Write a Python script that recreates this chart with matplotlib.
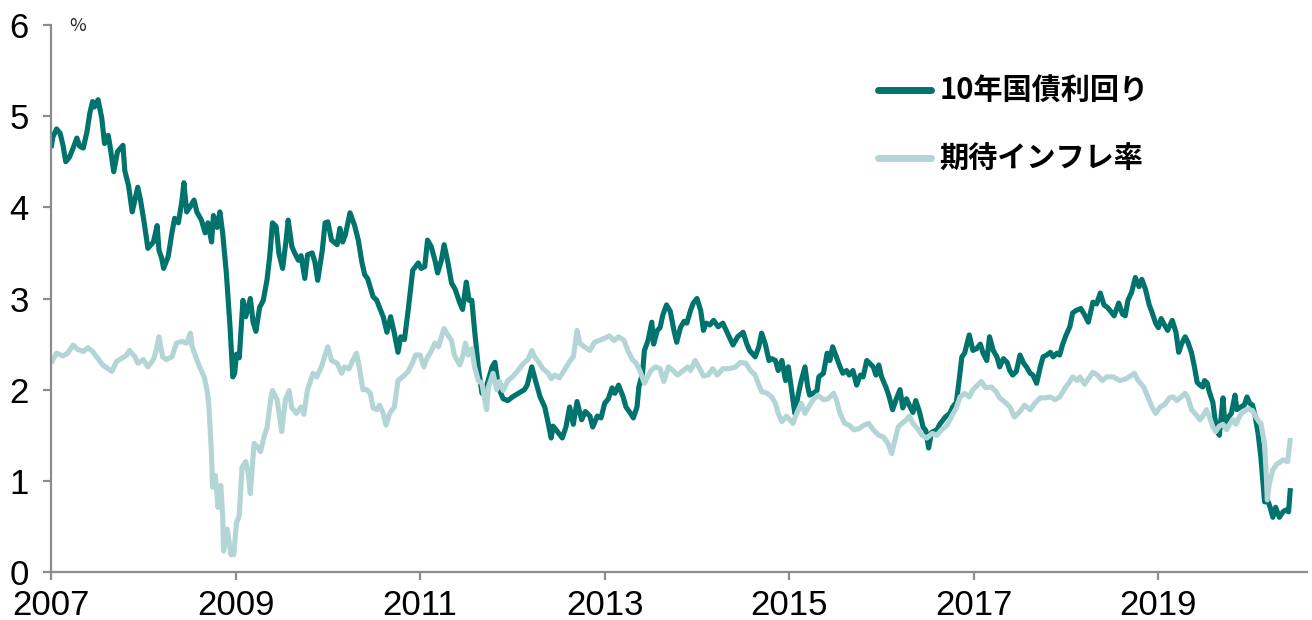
import matplotlib
matplotlib.use("Agg")
import matplotlib.pyplot as plt

# 10年国債利回り (週次の目視読み取り, 年の小数表記)
t_yield = [
    2007.00, 2007.02, 2007.06, 2007.10, 2007.13, 2007.16, 2007.20, 2007.24, 2007.28, 2007.31,
    2007.35, 2007.39, 2007.42, 2007.45, 2007.47, 2007.51, 2007.55, 2007.58, 2007.62, 2007.64,
    2007.68, 2007.72, 2007.78, 2007.80, 2007.84, 2007.88, 2007.94, 2007.97, 2008.01, 2008.05,
    2008.11, 2008.15, 2008.17, 2008.20, 2008.22, 2008.27, 2008.31, 2008.34, 2008.38, 2008.42,
    2008.44, 2008.47, 2008.51, 2008.55, 2008.58, 2008.63, 2008.67, 2008.70, 2008.74, 2008.76,
    2008.80, 2008.83, 2008.86, 2008.90, 2008.94, 2008.97, 2008.99, 2009.01, 2009.04, 2009.08,
    2009.11, 2009.16, 2009.19, 2009.22, 2009.26, 2009.30, 2009.34, 2009.37, 2009.40, 2009.44,
    2009.47, 2009.51, 2009.55, 2009.57, 2009.61, 2009.64, 2009.68, 2009.71, 2009.75, 2009.78,
    2009.83, 2009.86, 2009.89, 2009.94, 2009.97, 2010.00, 2010.04, 2010.10, 2010.13, 2010.16,
    2010.19, 2010.24, 2010.29, 2010.33, 2010.37, 2010.40, 2010.43, 2010.49, 2010.53, 2010.56,
    2010.60, 2010.64, 2010.68, 2010.72, 2010.76, 2010.79, 2010.83, 2010.87, 2010.92, 2010.98,
    2011.01, 2011.05, 2011.08, 2011.12, 2011.16, 2011.19, 2011.23, 2011.26, 2011.30, 2011.34,
    2011.38, 2011.43, 2011.46, 2011.50, 2011.53, 2011.56, 2011.59, 2011.63, 2011.67, 2011.72,
    2011.78, 2011.81, 2011.85, 2011.90, 2011.95, 2012.00, 2012.08, 2012.13, 2012.16, 2012.21,
    2012.25, 2012.30, 2012.35, 2012.38, 2012.42, 2012.44, 2012.48, 2012.54, 2012.58, 2012.62,
    2012.66, 2012.70, 2012.75, 2012.79, 2012.84, 2012.87, 2012.92, 2012.96, 2013.00, 2013.04,
    2013.08, 2013.11, 2013.15, 2013.20, 2013.23, 2013.28, 2013.31, 2013.35, 2013.37, 2013.41,
    2013.43, 2013.47, 2013.51, 2013.53, 2013.57, 2013.60, 2013.63, 2013.67, 2013.71, 2013.75,
    2013.78, 2013.82, 2013.86, 2013.89, 2013.93, 2013.96, 2014.00, 2014.04, 2014.07, 2014.10,
    2014.14, 2014.18, 2014.23, 2014.28, 2014.33, 2014.39, 2014.44, 2014.50, 2014.54, 2014.57,
    2014.63, 2014.67, 2014.70, 2014.74, 2014.78, 2014.81, 2014.85, 2014.88, 2014.92, 2014.96,
    2014.99, 2015.03, 2015.06, 2015.10, 2015.13, 2015.17, 2015.20, 2015.22, 2015.26, 2015.30,
    2015.32, 2015.37, 2015.41, 2015.44, 2015.47, 2015.51, 2015.55, 2015.58, 2015.62, 2015.65,
    2015.69, 2015.73, 2015.77, 2015.80, 2015.84, 2015.87, 2015.91, 2015.94, 2015.97, 2016.00,
    2016.05, 2016.08, 2016.12, 2016.16, 2016.20, 2016.23, 2016.27, 2016.30, 2016.34, 2016.37,
    2016.41, 2016.45, 2016.48, 2016.51, 2016.54, 2016.60, 2016.63, 2016.69, 2016.74, 2016.77,
    2016.81, 2016.84, 2016.87, 2016.90, 2016.95, 2016.99, 2017.03, 2017.07, 2017.10, 2017.14,
    2017.17, 2017.21, 2017.25, 2017.28, 2017.32, 2017.36, 2017.39, 2017.42, 2017.46, 2017.50,
    2017.54, 2017.57, 2017.61, 2017.64, 2017.68, 2017.72, 2017.75, 2017.79, 2017.83, 2017.86,
    2017.90, 2017.93, 2017.96, 2018.00, 2018.04, 2018.07, 2018.11, 2018.16, 2018.20, 2018.24,
    2018.29, 2018.33, 2018.37, 2018.41, 2018.45, 2018.49, 2018.52, 2018.57, 2018.61, 2018.64,
    2018.67, 2018.71, 2018.75, 2018.79, 2018.82, 2018.86, 2018.90, 2018.93, 2018.97, 2019.00,
    2019.03, 2019.06, 2019.10, 2019.15, 2019.19, 2019.22, 2019.25, 2019.29, 2019.32, 2019.36,
    2019.39, 2019.42, 2019.45, 2019.48, 2019.50, 2019.53, 2019.55, 2019.59, 2019.61, 2019.64,
    2019.66, 2019.70, 2019.72, 2019.75, 2019.79, 2019.83, 2019.85, 2019.89, 2019.93, 2019.96,
    2019.99, 2020.02, 2020.05, 2020.08, 2020.11, 2020.13, 2020.15, 2020.19, 2020.21, 2020.24,
    2020.27, 2020.31, 2020.35, 2020.38, 2020.41, 2020.43,
]
yield_10y = [
    4.65, 4.77, 4.86, 4.81, 4.68, 4.50, 4.55, 4.65, 4.76, 4.67,
    4.65, 4.83, 5.03, 5.16, 5.10, 5.18, 4.98, 4.70, 4.79, 4.67,
    4.39, 4.61, 4.68, 4.40, 4.24, 3.95, 4.22, 4.08, 3.83, 3.55,
    3.62, 3.80, 3.53, 3.44, 3.33, 3.46, 3.72, 3.88, 3.83, 4.08,
    4.27, 3.95, 4.01, 4.08, 3.95, 3.86, 3.72, 3.83, 3.62, 3.91,
    3.78, 3.95, 3.72, 3.28, 2.69, 2.14, 2.18, 2.39, 2.35, 2.98,
    2.80, 3.00, 2.74, 2.64, 2.90, 2.98, 3.20, 3.46, 3.83, 3.79,
    3.49, 3.33, 3.66, 3.86, 3.57, 3.50, 3.42, 3.47, 3.22, 3.48,
    3.50, 3.40, 3.20, 3.53, 3.83, 3.84, 3.64, 3.59, 3.77, 3.62,
    3.70, 3.94, 3.80, 3.64, 3.39, 3.26, 3.22, 3.02, 2.98, 2.90,
    2.80, 2.63, 2.80, 2.62, 2.41, 2.58, 2.55, 2.87, 3.31, 3.39,
    3.33, 3.35, 3.64, 3.57, 3.42, 3.28, 3.42, 3.59, 3.40, 3.17,
    3.10, 2.95, 2.88, 3.18, 2.98, 2.98, 2.65, 2.25, 1.96, 2.04,
    2.25, 2.30, 2.02, 1.90, 1.88, 1.92, 1.97, 2.00, 2.05, 2.25,
    2.10, 1.92, 1.81, 1.67, 1.47, 1.60, 1.55, 1.47, 1.59, 1.81,
    1.62, 1.87, 1.67, 1.76, 1.71, 1.59, 1.71, 1.69, 1.85, 1.90,
    2.02, 1.96, 2.05, 1.92, 1.81, 1.74, 1.69, 1.81, 2.03, 2.18,
    2.43, 2.54, 2.74, 2.50, 2.65, 2.68, 2.82, 2.93, 2.86, 2.65,
    2.52, 2.68, 2.75, 2.73, 2.87, 2.95, 3.00, 2.87, 2.65, 2.73,
    2.71, 2.76, 2.69, 2.73, 2.62, 2.49, 2.58, 2.63, 2.50, 2.43,
    2.36, 2.47, 2.62, 2.50, 2.32, 2.34, 2.32, 2.21, 2.32, 2.10,
    2.25, 1.96, 1.74, 1.96, 2.10, 2.25, 2.03, 1.94, 1.96, 1.99,
    2.14, 2.18, 2.40, 2.32, 2.47, 2.36, 2.25, 2.18, 2.21, 2.16,
    2.21, 2.05, 2.16, 2.14, 2.32, 2.29, 2.25, 2.16, 2.27, 2.14,
    2.02, 1.93, 1.78, 1.90, 2.00, 1.80, 1.90, 1.83, 1.75, 1.88,
    1.76, 1.59, 1.55, 1.36, 1.53, 1.56, 1.62, 1.70, 1.74, 1.81,
    1.86, 2.10, 2.36, 2.40, 2.60, 2.43, 2.45, 2.50, 2.40, 2.32,
    2.58, 2.43, 2.36, 2.25, 2.34, 2.30, 2.21, 2.16, 2.20, 2.38,
    2.29, 2.25, 2.18, 2.16, 2.07, 2.25, 2.36, 2.38, 2.41, 2.36,
    2.40, 2.38, 2.49, 2.60, 2.69, 2.84, 2.87, 2.89, 2.82, 2.74,
    2.96, 2.94, 3.06, 2.93, 2.90, 2.85, 2.81, 2.95, 2.83, 2.81,
    2.98, 3.07, 3.23, 3.13, 3.21, 3.10, 2.93, 2.85, 2.73, 2.68,
    2.78, 2.72, 2.65, 2.76, 2.63, 2.41, 2.50, 2.58, 2.52, 2.40,
    2.25, 2.08, 2.05, 2.03, 2.10, 2.07, 1.98, 1.86, 1.70, 1.54,
    1.50, 1.91, 1.60, 1.69, 1.74, 1.94, 1.78, 1.81, 1.83, 1.92,
    1.85, 1.83, 1.70, 1.52, 1.26, 1.01, 0.77, 0.77, 0.71, 0.60,
    0.71, 0.60, 0.66, 0.68, 0.66, 0.92,
]

# 期待インフレ率
t_bei = [
    2007.00, 2007.06, 2007.13, 2007.18, 2007.24, 2007.29, 2007.35, 2007.40, 2007.45, 2007.51,
    2007.56, 2007.62, 2007.66, 2007.71, 2007.76, 2007.82, 2007.85, 2007.91, 2007.94, 2008.00,
    2008.05, 2008.11, 2008.14, 2008.17, 2008.21, 2008.25, 2008.31, 2008.36, 2008.42, 2008.47,
    2008.51, 2008.53, 2008.58, 2008.61, 2008.66, 2008.69, 2008.71, 2008.74, 2008.75, 2008.78,
    2008.81, 2008.84, 2008.86, 2008.87, 2008.91, 2008.95, 2008.98, 2009.01, 2009.04, 2009.07,
    2009.11, 2009.14, 2009.16, 2009.20, 2009.25, 2009.27, 2009.31, 2009.34, 2009.38, 2009.40,
    2009.45, 2009.50, 2009.54, 2009.58, 2009.61, 2009.66, 2009.71, 2009.74, 2009.78, 2009.84,
    2009.88, 2009.93, 2009.97, 2010.00, 2010.04, 2010.10, 2010.15, 2010.18, 2010.23, 2010.27,
    2010.31, 2010.34, 2010.38, 2010.42, 2010.46, 2010.49, 2010.53, 2010.56, 2010.60, 2010.63,
    2010.67, 2010.72, 2010.76, 2010.81, 2010.87, 2010.92, 2010.95, 2011.00, 2011.04, 2011.08,
    2011.11, 2011.16, 2011.20, 2011.23, 2011.26, 2011.30, 2011.34, 2011.37, 2011.43, 2011.46,
    2011.49, 2011.52, 2011.56, 2011.59, 2011.63, 2011.67, 2011.70, 2011.72, 2011.74, 2011.79,
    2011.83, 2011.86, 2011.90, 2011.95, 2012.00, 2012.06, 2012.12, 2012.17, 2012.21, 2012.24,
    2012.28, 2012.33, 2012.39, 2012.42, 2012.46, 2012.51, 2012.56, 2012.62, 2012.66, 2012.70,
    2012.73, 2012.78, 2012.84, 2012.89, 2012.94, 2012.99, 2013.05, 2013.10, 2013.15, 2013.21,
    2013.25, 2013.30, 2013.34, 2013.38, 2013.43, 2013.46, 2013.50, 2013.55, 2013.60, 2013.64,
    2013.69, 2013.74, 2013.79, 2013.85, 2013.90, 2013.93, 2013.98, 2014.03, 2014.07, 2014.12,
    2014.17, 2014.22, 2014.28, 2014.35, 2014.42, 2014.47, 2014.53, 2014.58, 2014.63, 2014.67,
    2014.70, 2014.76, 2014.81, 2014.85, 2014.88, 2014.92, 2014.97, 2015.04, 2015.06, 2015.10,
    2015.13, 2015.17, 2015.21, 2015.26, 2015.31, 2015.37, 2015.42, 2015.48, 2015.51, 2015.55,
    2015.60, 2015.65, 2015.70, 2015.75, 2015.81, 2015.86, 2015.91, 2015.97, 2016.02, 2016.07,
    2016.11, 2016.14, 2016.18, 2016.22, 2016.27, 2016.30, 2016.34, 2016.39, 2016.44, 2016.49,
    2016.55, 2016.60, 2016.65, 2016.71, 2016.76, 2016.81, 2016.85, 2016.90, 2016.95, 2016.99,
    2017.04, 2017.08, 2017.13, 2017.19, 2017.24, 2017.28, 2017.33, 2017.39, 2017.44, 2017.50,
    2017.55, 2017.61, 2017.66, 2017.72, 2017.77, 2017.83, 2017.88, 2017.93, 2017.99, 2018.04,
    2018.07, 2018.12, 2018.15, 2018.20, 2018.29, 2018.34, 2018.39, 2018.44, 2018.51, 2018.58,
    2018.65, 2018.74, 2018.78, 2018.84, 2018.89, 2018.93, 2018.97, 2019.02, 2019.07, 2019.12,
    2019.16, 2019.20, 2019.29, 2019.32, 2019.36, 2019.42, 2019.45, 2019.48, 2019.52, 2019.55,
    2019.59, 2019.62, 2019.66, 2019.70, 2019.74, 2019.77, 2019.81, 2019.84, 2019.88, 2019.91,
    2019.97, 2020.02, 2020.05, 2020.09, 2020.11, 2020.15, 2020.17, 2020.18, 2020.20, 2020.24,
    2020.28, 2020.31, 2020.35, 2020.40, 2020.43,
]
bei = [
    2.29, 2.40, 2.37, 2.40, 2.49, 2.44, 2.42, 2.46, 2.42, 2.34,
    2.27, 2.23, 2.20, 2.31, 2.34, 2.38, 2.43, 2.36, 2.29, 2.33,
    2.25, 2.33, 2.43, 2.58, 2.36, 2.33, 2.36, 2.51, 2.53, 2.51,
    2.62, 2.47, 2.33, 2.25, 2.14, 2.00, 1.84, 1.28, 0.93, 1.06,
    0.71, 0.95, 0.62, 0.23, 0.47, 0.19, 0.19, 0.54, 0.62, 1.15,
    1.21, 1.06, 0.86, 1.41, 1.36, 1.32, 1.49, 1.58, 1.89, 1.99,
    1.89, 1.54, 1.89, 1.99, 1.80, 1.74, 1.81, 1.73, 2.00, 2.18,
    2.14, 2.25, 2.38, 2.47, 2.32, 2.29, 2.18, 2.25, 2.23, 2.32,
    2.40, 2.25, 2.00, 2.00, 1.96, 1.80, 1.78, 1.83, 1.74, 1.61,
    1.74, 1.81, 2.10, 2.14, 2.20, 2.30, 2.38, 2.38, 2.25, 2.36,
    2.40, 2.51, 2.47, 2.58, 2.67, 2.60, 2.54, 2.38, 2.27, 2.36,
    2.51, 2.38, 2.45, 2.25, 2.10, 2.07, 1.89, 1.78, 2.03, 2.18,
    2.00, 2.09, 1.99, 2.10, 2.14, 2.21, 2.29, 2.33, 2.43, 2.36,
    2.31, 2.23, 2.18, 2.12, 2.16, 2.13, 2.21, 2.31, 2.36, 2.65,
    2.51, 2.47, 2.43, 2.52, 2.54, 2.56, 2.59, 2.54, 2.58, 2.54,
    2.43, 2.33, 2.29, 2.21, 2.07, 2.13, 2.21, 2.25, 2.23, 2.09,
    2.25, 2.21, 2.16, 2.21, 2.25, 2.21, 2.32, 2.23, 2.15, 2.16,
    2.23, 2.16, 2.23, 2.23, 2.25, 2.30, 2.29, 2.21, 2.16, 2.05,
    1.98, 1.96, 1.92, 1.85, 1.74, 1.65, 1.71, 1.63, 1.69, 1.78,
    1.85, 1.74, 1.81, 1.89, 1.94, 1.89, 1.90, 1.96, 1.89, 1.74,
    1.63, 1.61, 1.56, 1.57, 1.61, 1.63, 1.56, 1.50, 1.48, 1.41,
    1.30, 1.43, 1.59, 1.63, 1.67, 1.71, 1.63, 1.57, 1.50, 1.47,
    1.52, 1.50, 1.56, 1.61, 1.71, 1.80, 1.92, 1.96, 1.92, 2.00,
    2.05, 2.09, 2.02, 2.03, 1.98, 1.91, 1.87, 1.81, 1.70, 1.76,
    1.83, 1.78, 1.85, 1.91, 1.91, 1.92, 1.89, 1.92, 2.02, 2.09,
    2.14, 2.10, 2.14, 2.06, 2.19, 2.16, 2.10, 2.14, 2.14, 2.10,
    2.12, 2.18, 2.10, 2.03, 1.91, 1.81, 1.74, 1.81, 1.84, 1.91,
    1.92, 1.88, 1.96, 1.91, 1.78, 1.71, 1.67, 1.71, 1.78, 1.71,
    1.59, 1.54, 1.60, 1.62, 1.56, 1.62, 1.67, 1.62, 1.71, 1.75,
    1.79, 1.77, 1.71, 1.65, 1.63, 1.41, 1.04, 0.79, 0.96, 1.12,
    1.18, 1.20, 1.23, 1.21, 1.47,
]

year_ticks = [2007, 2009, 2011, 2013, 2015, 2017, 2019]
y_ticks = [0, 1, 2, 3, 4, 5, 6]
series_labels = ["10年国債利回り", "期待インフレ率"]

dark = "#00736C"
light = "#B3D5D6"
axis_gray = "#8C8C8C"
num_font = ["Liberation Sans", "DejaVu Sans"]
jp_font = ["Noto Sans CJK JP", "DejaVu Sans"]

fig = plt.figure(figsize=(13.12, 6.2), dpi=100)
ax = fig.add_axes([51 / 1312, 48 / 620, 1256 / 1312, 547 / 620])

ax.plot(t_yield, yield_10y, color=dark, lw=3.7, solid_joinstyle="round",
        solid_capstyle="butt", label=series_labels[0])
ax.plot(t_bei, bei, color=light, lw=3.7, solid_joinstyle="round",
        solid_capstyle="butt", label=series_labels[1])

ax.set_xlim(2007, 2020.61)
ax.set_ylim(0, 6)
ax.set_xticks(year_ticks)
ax.set_xticklabels([str(y) for y in year_ticks])
ax.set_yticks(y_ticks)
ax.set_yticklabels([str(v) for v in y_ticks])

for side in ["top", "right"]:
    ax.spines[side].set_visible(False)
for side in ["left", "bottom"]:
    ax.spines[side].set_color(axis_gray)
    ax.spines[side].set_linewidth(1.6)

ax.tick_params(axis="both", direction="out", length=6, width=1.6, color=axis_gray)
ax.tick_params(axis="y", pad=10)
ax.tick_params(axis="x", pad=6)
for lab in ax.get_xticklabels() + ax.get_yticklabels():
    lab.set_family(num_font)
    lab.set_fontsize(25)
    lab.set_color("black")

fig.text(78 / 1312, 1 - 26 / 620, "%", ha="center", va="center",
         fontsize=13, color="#222222", family=jp_font)

leg = ax.legend(loc="upper left", bbox_to_anchor=(878 / 1312, 1 - 76 / 620),
                bbox_transform=fig.transFigure, frameon=False,
                prop={"family": jp_font, "size": 21, "weight": "bold"},
                handlelength=1.8, handletextpad=0.3, labelspacing=1.3,
                borderpad=0, borderaxespad=0)
for h in leg.get_lines():
    h.set_linewidth(5)
    h.set_solid_capstyle("round")

fig.savefig("out.png", dpi=100)
